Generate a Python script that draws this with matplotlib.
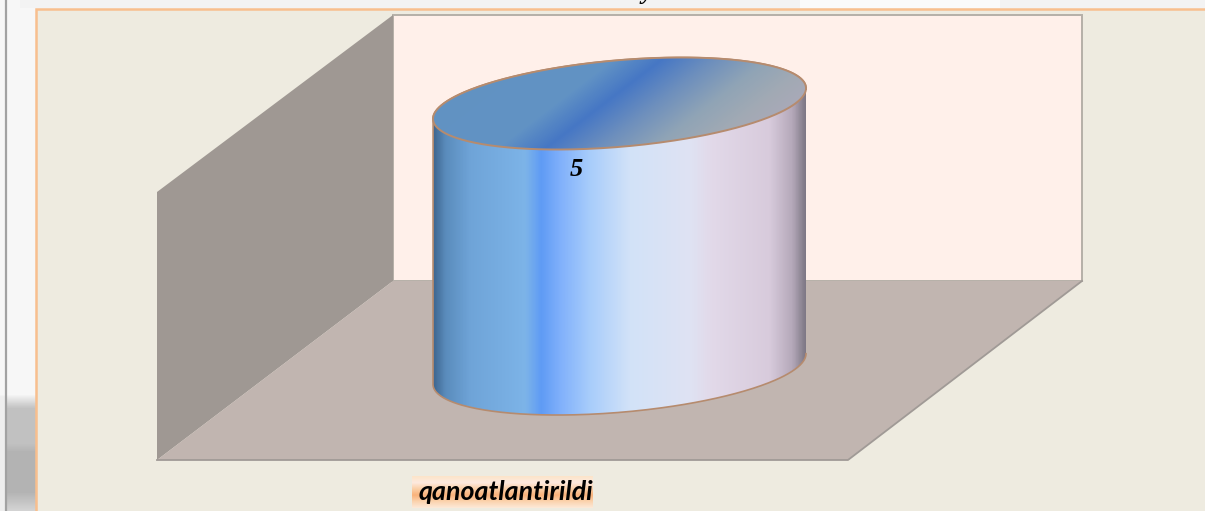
import numpy as np
import matplotlib
matplotlib.use("Agg")
import matplotlib.pyplot as plt
from matplotlib.colors import LinearSegmentedColormap
from matplotlib.patches import Polygon, PathPatch
from matplotlib.path import Path

####################################### DATA #######################################
categories = ["qanoatlantirildi"]
values = [5]
y_max = 5

####################################### Layout in pixels #######################################
W, H = 1205, 511
cx = 619.5          # centre of the cylinder
base_y = 369        # centre of the bottom ellipse (value 0)
top_y = 103.5       # centre of the top ellipse (value = y_max)
A, TILT, B = 186.5, 15.3, 43.4


def val2px(v):
    return base_y - (base_y - top_y) * v / y_max


def ellipse(cy, t):
    return cx + A * np.cos(t), cy - TILT * np.cos(t) + B * np.sin(t)


def gradient(stops):
    lo, hi = stops[0][0], stops[-1][0]
    return LinearSegmentedColormap.from_list("g", [((p - lo) / (hi - lo), c) for p, c in stops], N=512), lo, hi


fig = plt.figure(figsize=(W / 100, H / 100), dpi=100)
ax = fig.add_axes([0, 0, 1, 1])
ax.set_xlim(0, W)
ax.set_ylim(H, 0)
ax.axis("off")

####################################### Page behind the chart #######################################
page = np.full((H, W), 0.96)
yy = np.arange(H)
shadow = np.clip((yy - 394) / 14, 0, 1) * 0.21 + np.clip((yy - 443) / 8, 0, 1) * 0.05
fade = np.clip((yy - 492) / 19, 0, 1) * 0.5
page[:, :36] = (0.965 - shadow * (1 - fade))[:, None]
page[:, :5] = np.maximum(page[:, :5], 0.93)
page[:8, 20:] = 0.95
page[:8, 800:1000] = 0.98
ax.imshow(page, extent=(0, W, H, 0), cmap="gray", vmin=0, vmax=1, aspect="auto", zorder=0)
ax.plot([6, 6], [0, H], color="#a2a2a2", lw=1.6, zorder=1)

# cut off text line above the frame, only the tail of the letter shows
ax.text(647, -1.5, "y", fontsize=18, family="Liberation Serif", style="italic", weight="bold",
        ha="center", va="baseline", clip_on=False, zorder=1)

####################################### Chart area and walls #######################################
ax.add_patch(Polygon([(36, 9), (W + 5, 9), (W + 5, H + 5), (36, H + 5)], fc="#eeebe0", ec="#f8bf8e", lw=1.8, zorder=2))
ax.add_patch(Polygon([(393, 15), (1082, 15), (1082, 281), (393, 281)], fc="#fff0ea", ec="#b5b0a8", lw=1.4, zorder=3))
ax.add_patch(Polygon([(157, 192), (393, 15), (393, 281), (157, 460)], fc="#9f9893", ec="none", zorder=4))
ax.add_patch(Polygon([(157, 460), (393, 281), (1082, 281), (848, 460)], fc="#c1b5b0", ec="none", zorder=4))
ax.plot([157, 848, 1082], [460, 460, 281], color="#a09a96", lw=1.3, zorder=4)

####################################### Cylinder #######################################
body_stops = [(433, "#3f6791"), (445, "#5a8cbc"), (470, "#6fa4d8"), (525, "#7db4e8"), (541, "#5f9bf5"),
              (560, "#80b0fb"), (590, "#a8cdfb"), (630, "#d2e2f8"), (690, "#dfe3f3"), (712, "#e2d9e9"),
              (770, "#d8cbdc"), (793, "#b5a9ba"), (806, "#7f7986")]
cap_stops = [(400, "#6192c2"), (555, "#6192c4"), (603, "#4677c5"), (655, "#6d8fbd"), (710, "#90a4b6"),
             (760, "#a2aab4"), (840, "#b2a9be")]

y_top = val2px(values[0])
t_low = np.linspace(0, np.pi, 200)
t_up = np.linspace(np.pi, 2 * np.pi, 200)
bx, by = ellipse(base_y, t_low)
ux, uy = ellipse(y_top, t_up)
body_path = Path(np.column_stack([np.r_[bx, ux], np.r_[by, uy]]))

cmap, lo, hi = gradient(body_stops)
body_img = ax.imshow(np.linspace(0, 1, 400)[None, :], extent=(lo, hi, H, 0), cmap=cmap, aspect="auto", zorder=5)
body_img.set_clip_path(PathPatch(body_path, transform=ax.transData))
ax.plot(np.r_[bx, ux], np.r_[by, uy], color="#b68b6e", lw=1.2, zorder=6)

t_all = np.linspace(0, 2 * np.pi, 400)
ex, ey = ellipse(y_top, t_all)
cap_path = Path(np.column_stack([ex, ey]))
cmap, lo, hi = gradient(cap_stops)
gx, gy = np.meshgrid(np.arange(420, 820), np.arange(40, 170))
u = gx + 1.307 * (gy - y_top)   # stripes run along the disc
cap_img = ax.imshow((u - lo) / (hi - lo), extent=(420, 820, 170, 40), cmap=cmap, vmin=0, vmax=1, aspect="auto", zorder=7)
cap_img.set_clip_path(PathPatch(cap_path, transform=ax.transData))
ax.plot(ex, ey, color="#b68b6e", lw=1.4, zorder=8)

ax.set_xlim(0, W)
ax.set_ylim(H, 0)

####################################### Texts #######################################
ax.text(576, 169, str(values[0]), fontsize=19, family="Liberation Serif", style="italic", weight="bold",
        ha="center", va="center", color="black", zorder=9)

label_cmap = LinearSegmentedColormap.from_list("label", ["#fce4c9", "#feeadf", "#fbcfa6", "#f9b27b", "#fbd3ae", "#fde9d8"])
ax.imshow(np.linspace(0, 1, 64)[:, None], extent=(412, 593, 508, 476), cmap=label_cmap, aspect="auto", zorder=5)
ax.set_xlim(0, W)
ax.set_ylim(H, 0)
ax.text(505.5, 492, categories[0], fontsize=19.3, family="Lato", style="italic", weight="bold",
        ha="center", va="center", color="black", zorder=9)

plt.savefig("out.png", dpi=100)
